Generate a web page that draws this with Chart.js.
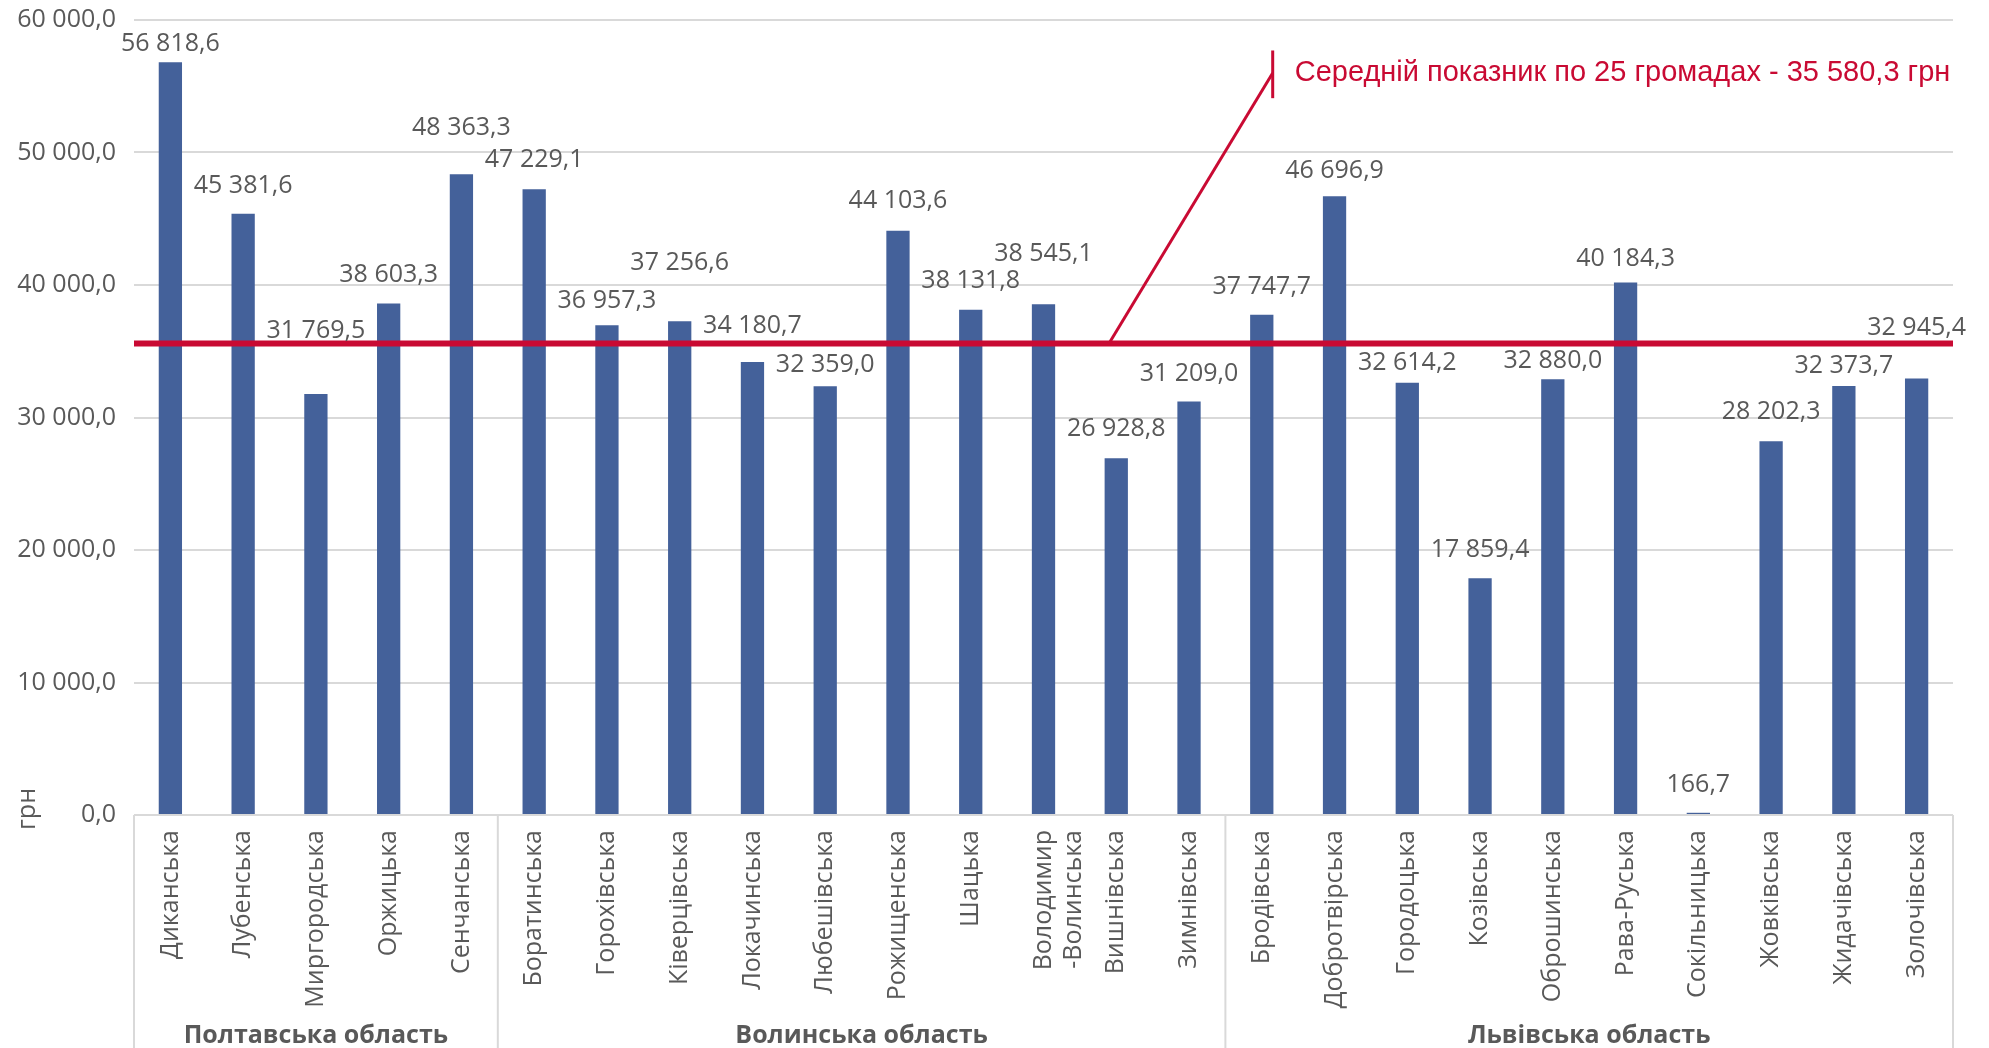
<!DOCTYPE html>
<html lang="uk">
<head>
<meta charset="UTF-8">
<title>Середній показник по 25 громадах</title>
<script src="https://cdn.jsdelivr.net/npm/chart.js"></script>
<style>
  body { margin: 0; background: #fff; }
  .wrap { width: 1989px; height: 1048px; position: relative; }
</style>
</head>
<body>
<div class="wrap"><canvas id="chart"></canvas></div>
<script>
// громади, in oblast order
const communities = [
  'Диканська', 'Лубенська', 'Миргородська', 'Оржицька', 'Сенчанська',
  'Боратинська', 'Горохівська', 'Ківерцівська', 'Локачинська', 'Любешівська',
  'Рожищенська', 'Шацька', ['Володимир', '-Волинська'], 'Вишнівська', 'Зимнівська',
  'Бродівська', 'Добротвірська', 'Городоцька', 'Козівська', 'Оброшинська',
  'Рава-Руська', 'Сокільницька', 'Жовківська', 'Жидачівська', 'Золочівська'
];
const values = [
  56818.6, 45381.6, 31769.5, 38603.3, 48363.3,
  47229.1, 36957.3, 37256.6, 34180.7, 32359.0,
  44103.6, 38131.8, 38545.1, 26928.8, 31209.0,
  37747.7, 46696.9, 32614.2, 17859.4, 32880.0,
  40184.3, 166.7, 28202.3, 32373.7, 32945.4
];
const regions = ['Полтавська область', 'Волинська область', 'Львівська область'];
const regionSizes = [5, 10, 10];
const average = 35580.3;
const yMin = 0, yMax = 60000, yStep = 10000;

// layout bits (not data): how high each value label sits above its bar, px
const labelLift = [18, 28, 63, 29, 46, 29, 24, 58, 36, 21, 30, 29, 50, 29, 28, 28, 25, 20, 28, 18, 24, 28, 29, 20, 51];
// callout from the average line, in axis units
const calloutFrom = 12.9, calloutTo = 15.15;
const calloutTop = 57700, calloutJoin = 56000, calloutBottom = 54100;

const grey = '#595959';
const red = '#C90A33';
const gridGrey = '#d9d9d9';

function fmt(v) {
  const p = v.toFixed(1).split('.');
  return p[0].replace(/\B(?=(\d{3})+(?!\d))/g, ' ') + ',' + p[1];
}

const extras = {
  id: 'extras',
  afterDatasetsDraw(chart) {
    const ctx = chart.ctx;
    const x = chart.scales.x, y = chart.scales.y;
    const area = chart.chartArea;
    ctx.save();

    // average line + callout
    const ay = y.getPixelForValue(average);
    ctx.strokeStyle = red;
    ctx.lineWidth = 6;
    ctx.beginPath();
    ctx.moveTo(area.left, ay);
    ctx.lineTo(area.right, ay);
    ctx.stroke();

    const cx = x.getPixelForValue(calloutTo);
    const jy = y.getPixelForValue(calloutJoin);
    ctx.lineWidth = 3;
    ctx.beginPath();
    ctx.moveTo(x.getPixelForValue(calloutFrom), ay);
    ctx.lineTo(cx, jy);
    ctx.stroke();
    ctx.beginPath();
    ctx.moveTo(cx, y.getPixelForValue(calloutTop));
    ctx.lineTo(cx, y.getPixelForValue(calloutBottom));
    ctx.stroke();

    ctx.fillStyle = red;
    ctx.font = '29px "Liberation Sans", Arial, sans-serif';
    ctx.textAlign = 'left';
    ctx.textBaseline = 'middle';
    ctx.fillText('Середній показник по ' + communities.length + ' громадах - ' + fmt(average) + ' грн', cx + 22, jy);

    // value labels
    ctx.fillStyle = grey;
    ctx.font = '25px "Open Sans", sans-serif';
    ctx.textAlign = 'center';
    chart.getDatasetMeta(0).data.forEach((bar, i) => {
      ctx.fillText(fmt(values[i]), bar.x, bar.y - labelLift[i]);
    });
    ctx.restore();
  },
  afterDraw(chart) {
    const ctx = chart.ctx;
    const x = chart.scales.x, y = chart.scales.y;
    const bottom = chart.height;
    const axisY = y.getPixelForValue(0);
    ctx.save();

    // region boxes under the category labels
    ctx.strokeStyle = gridGrey;
    ctx.lineWidth = 2;
    let start = 0;
    const edges = [x.getPixelForValue(-0.5)];
    regionSizes.forEach(n => {
      start += n;
      edges.push(x.getPixelForValue(start - 0.5));
    });
    edges.forEach(ex => {
      ctx.beginPath();
      ctx.moveTo(ex, axisY);
      ctx.lineTo(ex, bottom);
      ctx.stroke();
    });

    ctx.fillStyle = grey;
    ctx.font = 'bold 25px "Open Sans", sans-serif';
    ctx.textAlign = 'center';
    ctx.textBaseline = 'middle';
    regions.forEach((name, i) => {
      ctx.fillText(name, (edges[i] + edges[i + 1]) / 2, bottom - 12);
    });

    // axis unit
    ctx.font = '25px "Open Sans", sans-serif';
    ctx.translate(28, axisY - 6);
    ctx.rotate(-Math.PI / 2);
    ctx.fillText('грн', 0, 0);
    ctx.restore();
  }
};

new Chart(document.getElementById('chart'), {
  type: 'bar',
  data: {
    labels: communities,
    datasets: [{
      data: values,
      backgroundColor: '#44619A',
      barPercentage: 0.32,
      categoryPercentage: 1
    }]
  },
  options: {
    responsive: true,
    maintainAspectRatio: false,
    animation: false,
    layout: { padding: { top: 20, right: 36, left: 0, bottom: 0 } },
    plugins: {
      legend: { display: false },
      tooltip: { enabled: false }
    },
    scales: {
      x: {
        grid: { display: false },
        border: { display: false },
        ticks: {
          color: grey,
          font: { family: '"Open Sans", sans-serif', size: 25 },
          maxRotation: 90,
          minRotation: 90,
          autoSkip: false,
          padding: 7
        },
        afterFit: s => { s.height = 233; }
      },
      y: {
        min: yMin,
        max: yMax,
        // invisible tick marks give the gap between labels and plot
        grid: { color: gridGrey, lineWidth: 2, drawTicks: true, tickLength: 18, tickColor: 'rgba(0,0,0,0)' },
        border: { display: false },
        ticks: {
          stepSize: yStep,
          color: grey,
          font: { family: '"Open Sans", sans-serif', size: 25 },
          padding: 0,
          callback: v => fmt(v)
        },
        afterFit: s => { s.width = 134; }
      }
    }
  },
  plugins: [extras]
});
</script>
</body>
</html>
